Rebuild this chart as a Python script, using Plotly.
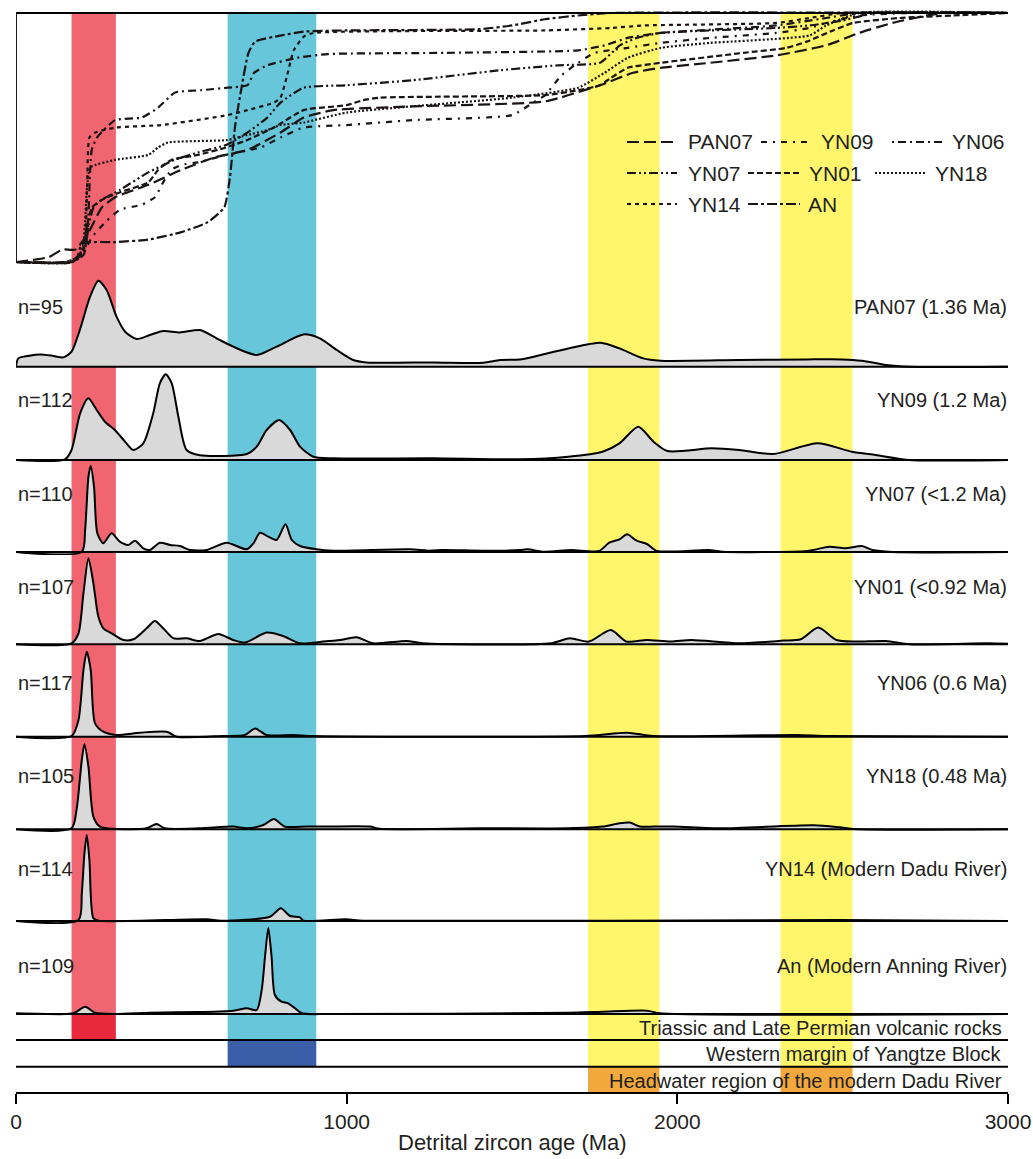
import plotly.graph_objects as go

W, H = 1033, 1159

# ---------------- DATA ----------------
# Cumulative age distributions (top panel): age (Ma) and cumulative fraction
cdf_age_PAN07 = [0,60,100,140,180,220,260,300,400,500,600,700,800,870,960,1200,1600,1766,1866,1950,2100,2300,2450,2550,2650,2800,3000]
cdf_cum_PAN07 = [0,0.01,0.02,0.05,0.05,0.12,0.22,0.26,0.31,0.37,0.42,0.45,0.52,0.58,0.61,0.625,0.645,0.71,0.76,0.78,0.80,0.83,0.87,0.92,0.96,1.0,1.0]
cdf_age_YN09 = [0,170,200,230,270,315,380,420,445,470,500,550,635,740,800,870,1000,1200,1500,1564,1600,1650,1700,1750,1850,1950,2100,2300,2400,2450,2550,2700,3000]
cdf_cum_YN09 = [0,0,0.03,0.10,0.16,0.21,0.23,0.26,0.32,0.37,0.39,0.40,0.43,0.46,0.50,0.54,0.55,0.57,0.59,0.64,0.67,0.75,0.80,0.84,0.86,0.88,0.90,0.92,0.94,0.96,0.99,1.0,1.0]
cdf_age_YN06 = [0,150,200,215,229,245,300,380,430,480,560,640,700,720,760,850,943,1300,1700,1780,1850,1950,2300,2450,2550,3000]
cdf_cum_YN06 = [0,0,0.03,0.10,0.45,0.50,0.57,0.58,0.62,0.68,0.69,0.70,0.71,0.76,0.79,0.82,0.835,0.84,0.85,0.87,0.90,0.92,0.95,0.98,1.0,1.0]
cdf_age_YN07 = [0,170,205,220,235,260,315,400,480,550,635,700,760,800,870,1000,1200,1464,1640,1766,1826,1877,1950,2300,2400,2500,2600,3000]
cdf_cum_YN07 = [0,0,0.03,0.15,0.22,0.25,0.29,0.36,0.41,0.44,0.47,0.52,0.58,0.64,0.70,0.71,0.73,0.77,0.79,0.80,0.87,0.90,0.92,0.94,0.95,0.97,1.0,1.0]
cdf_age_YN01 = [0,170,200,215,230,260,315,400,430,470,550,635,700,780,870,1000,1050,1100,1600,1700,1766,1800,1850,1950,2200,2330,2391,2471,2531,2673,2833,3000]
cdf_cum_YN01 = [0,0,0.04,0.15,0.22,0.25,0.28,0.32,0.37,0.41,0.43,0.46,0.49,0.54,0.61,0.63,0.65,0.66,0.67,0.69,0.71,0.74,0.78,0.80,0.84,0.86,0.885,0.93,0.96,0.98,0.99,1.0]
cdf_age_YN18 = [0,170,200,215,225,300,400,430,460,640,700,760,800,870,1000,1500,1700,1780,1850,1950,2100,2400,2450,2550,3000]
cdf_cum_YN18 = [0,0,0.05,0.30,0.38,0.41,0.43,0.46,0.48,0.49,0.51,0.53,0.55,0.56,0.60,0.66,0.70,0.76,0.82,0.86,0.88,0.91,0.95,1.0,1.0]
cdf_age_YN14 = [0,170,205,215,222,240,300,440,640,700,780,800,820,840,870,900,1600,1800,1900,2300,2400,2500,3000]
cdf_cum_YN14 = [0,0,0.05,0.30,0.50,0.52,0.54,0.55,0.59,0.61,0.64,0.66,0.75,0.85,0.905,0.92,0.93,0.94,0.95,0.96,0.98,1.0,1.0]
cdf_age_AN = [0,150,185,200,300,400,500,580,630,647,662,682,703,723,803,870,1000,1400,1500,1600,1700,1800,3000]
cdf_cum_AN = [0,0,0.02,0.075,0.08,0.09,0.12,0.16,0.22,0.34,0.54,0.70,0.84,0.885,0.91,0.925,0.93,0.935,0.95,0.975,0.99,1.0,1.0]

legend_names = ["PAN07", "YN09", "YN06", "YN07", "YN01", "YN18", "YN14", "AN"]

# Kernel density estimates (relative density, tallest peak = 86 units)
kde_age_PAN07 = [0,7,40,73,110,143,168,193,224,249,274,304,330,365,405,445,496,556,607,657,728,788,869,919,970,1020,1060,1261,1413,1464,1524,1566,1670,1768,1825,1897,1949,2187,2393,2497,2558,2631,2703,3000]
kde_den_PAN07 = [0,8.3,11,12.3,11,9.3,15,36.7,70,86,76.7,50,35,27.7,31.7,35.7,34.3,36.7,28.3,20,11.7,20,32.3,28.3,16.7,6.7,4.3,4.3,4,6.7,7.3,10,18.3,24,18.3,8.3,6,6.7,7.3,7.3,6,1.7,0,0]
kde_age_YN09 = [0,148,168,194,219,244,269,299,330,355,385,415,435,453,471,491,516,556,698,728,758,796,829,859,899,959,1261,1524,1670,1774,1825,1882,1928,1970,2104,2187,2290,2424,2528,2600,2703,3000]
kde_den_YN09 = [0,0.7,10,46.7,61.7,50,38.3,30,18.3,10,16.7,46.7,76.7,85.7,76.7,43.3,10,4.7,6,13.3,30,40,30,13.3,3.3,1.7,1.7,0.7,3.3,8.3,16.7,33.3,18.3,9,11.7,10,6,16.7,8.3,5,0,0]
kde_age_YN07 = [0,199,209,219,226,236,246,264,289,314,340,360,385,405,435,466,496,526,577,637,698,718,738,763,788,815,834,859,909,959,1191,1250,1292,1413,1524,1546,1598,1680,1763,1794,1825,1848,1877,1908,1939,2094,2135,2393,2460,2507,2558,2590,2650,3000]
kde_den_YN07 = [0,0.3,22,75,86,65,18.7,8.7,18.7,10.3,7,11.3,3.7,2,9.3,7,6,2,2,9.3,2.7,8.7,19.3,15.3,12,27.7,12,6,2.7,1.3,2.7,1.3,2,1.3,2,2.7,0.3,2,1,9.3,12.7,17.7,11.3,8,1,2,0.3,1,5.3,3.7,6,2,0,0]
kde_age_YN01 = [0,168,189,204,219,234,249,264,289,325,355,395,420,445,476,516,556,612,657,692,758,808,859,929,980,1030,1080,1181,1230,1618,1675,1732,1799,1846,1908,1980,2042,2187,2321,2373,2426,2481,2538,2631,2703,2941,3000]
kde_den_YN01 = [0,1,11,51,86,61,27.7,16,11,4.3,5,16,23.3,16,6,6,3.3,10.3,4.3,1.7,11.7,8.3,1,2.7,4.3,7,1,3.3,1,1,6,2.7,14.3,2.7,4.3,2.7,4.3,1,3.7,5,16.7,4.3,2.7,3.3,0,1,0.5]
kde_age_YN06 = [0,168,189,204,214,226,239,264,304,375,456,486,627,692,723,758,839,900,1720,1848,1928,2362,2453,3000]
kde_den_YN06 = [0,0.7,16.7,66.7,85,66.7,13.3,5,1.7,4,5,0,0.7,1.7,8.3,1.7,1.7,0.7,0.7,4,0.7,1.7,0.7,0]
kde_age_YN18 = [0,168,183,199,207,219,234,254,395,425,450,556,657,698,748,780,813,879,939,1070,1100,1400,1670,1774,1825,1856,1887,1928,1990,2135,2413,2497,2550,3000]
kde_den_YN18 = [0,1,19.3,69.3,85,62.7,12.7,2.7,1,5.3,1,1,2.7,1,4.3,10.3,2.7,2.7,2.7,2.7,0.5,1,1,2.7,6,6.7,2.7,2.7,2.7,1,4,1.7,0,0]
kde_age_YN14 = [0,189,199,207,214,222,234,250,577,620,768,801,829,859,869,998,1050,2486,3000]
kde_den_YN14 = [0,1,27.7,67.7,86,61,2.7,0.3,1.7,0.3,4.3,12.7,5,3.7,0.3,1.7,0.3,1,0]
kde_age_An = [0,151,178,209,239,300,405,556,657,698,728,743,753,763,773,783,803,823,844,864,950,1670,1774,1908,1949,3000]
kde_den_An = [0.7,0,1.3,7.3,1.3,0,1.3,2,3.3,5.7,4,24,57,86,57,19,12.3,10.7,5.7,0.7,0,1.3,2.3,3.3,0.7,0]

panel_n = ["n=95", "n=112", "n=110", "n=107", "n=117", "n=105", "n=114", "n=109"]
panel_names = ["PAN07 (1.36 Ma)", "YN09 (1.2 Ma)", "YN07 (&lt;1.2 Ma)", "YN01 (&lt;0.92 Ma)",
               "YN06 (0.6 Ma)", "YN18 (0.48 Ma)", "YN14 (Modern Dadu River)", "An (Modern Anning River)"]

# Age bands (Ma)
band_red = [168, 302]
band_blue = [640, 908]
band_yellow = [[1730, 1946], [2312, 2530]]

source_names = ["Triassic and Late Permian volcanic rocks",
                "Western margin of Yangtze Block",
                "Headwater region of the modern Dadu River"]

x_ticks = [0, 1000, 2000, 3000]
x_title = "Detrital zircon age (Ma)"

# ---------------- LAYOUT CONSTANTS (pixels) ----------------
FONT = "Liberation Sans, Arial, sans-serif"
TXT = "#231f20"
XL, XR = 16, 1008
def py(p):
    return 1 - p / H
def px(p):
    return p / W

cdf_top, cdf_bot = 13, 262
bases = [366.7, 460, 552, 644.3, 736.7, 829.3, 921, 1014]
label_y = [306.7, 400, 494, 587, 682.7, 775.7, 869, 966]
row_lines = [1040, 1066.7]
axis_y = 1093

fig = go.Figure()

# CDF traces
cdf_sets = [
    ("PAN07", cdf_age_PAN07, cdf_cum_PAN07, "12px,5px"),
    ("YN09", cdf_age_YN09, cdf_cum_YN09, "6px,6px,2px,6px"),
    ("YN06", cdf_age_YN06, cdf_cum_YN06, "2px,4px,8px,4px"),
    ("YN07", cdf_age_YN07, cdf_cum_YN07, "9px,3px,2px,3px,2px,3px"),
    ("YN01", cdf_age_YN01, cdf_cum_YN01, "6px,3px"),
    ("YN18", cdf_age_YN18, cdf_cum_YN18, "2px,2px"),
    ("YN14", cdf_age_YN14, cdf_cum_YN14, "4px,4px"),
    ("AN", cdf_age_AN, cdf_cum_AN, "10px,3px,3px,3px"),
]
dash_of = {}
for name, a, c, dash in cdf_sets:
    dash_of[name] = dash
    fig.add_trace(go.Scatter(x=a, y=c, mode="lines", xaxis="x", yaxis="y",
                             line=dict(color="#1a1414", width=2.2, dash=dash, shape="spline", smoothing=0.5),
                             showlegend=False, hoverinfo="skip"))

kde_sets = [
    (kde_age_PAN07, kde_den_PAN07), (kde_age_YN09, kde_den_YN09), (kde_age_YN07, kde_den_YN07),
    (kde_age_YN01, kde_den_YN01), (kde_age_YN06, kde_den_YN06), (kde_age_YN18, kde_den_YN18),
    (kde_age_YN14, kde_den_YN14), (kde_age_An, kde_den_An),
]
for i, (a, d) in enumerate(kde_sets):
    ya = "y%d" % (i + 2)
    fig.add_trace(go.Scatter(x=a, y=d, mode="lines", xaxis="x", yaxis=ya, fill="tozeroy",
                             fillcolor="#d9d9d9",
                             line=dict(color="black", width=2, shape="spline", smoothing=0.7),
                             showlegend=False, hoverinfo="skip"))

layout = dict(
    width=W, height=H, margin=dict(l=0, r=0, t=0, b=0, pad=0, autoexpand=False),
    paper_bgcolor="white", plot_bgcolor="rgba(0,0,0,0)",
    showlegend=False,
    font=dict(family=FONT, color=TXT, size=20),
    xaxis=dict(domain=[px(XL), px(XR)], range=[0, 3000], anchor="free", position=py(axis_y),
               automargin=False,
               showline=True, linecolor="black", linewidth=2, ticks="outside", ticklen=10,
               tickwidth=2, tickcolor="black", tickvals=x_ticks, ticktext=[str(t) for t in x_ticks],
               tickfont=dict(size=21, family=FONT, color=TXT), showgrid=False, zeroline=False),
    yaxis=dict(domain=[py(cdf_bot + 3), py(cdf_top - 3)], range=[-3 / 249, 1 + 3 / 249],
               visible=False, anchor="free", position=0, automargin=False),
)
for i, b in enumerate(bases):
    layout["yaxis%d" % (i + 2)] = dict(domain=[py(b + 3), py(b - 89)], range=[-3, 89],
                                        visible=False, anchor="free", position=0, automargin=False)

shapes = []
# colored age bands
y_top = py(cdf_top)
shapes.append(dict(type="rect", xref="x", yref="paper", x0=band_red[0], x1=band_red[1],
                   y0=py(bases[-1]), y1=y_top, fillcolor="#f0656f", line_width=0, layer="below"))
shapes.append(dict(type="rect", xref="x", yref="paper", x0=band_red[0], x1=band_red[1],
                   y0=py(row_lines[0]), y1=py(bases[-1]), fillcolor="#e8283b", line_width=0, layer="below"))
shapes.append(dict(type="rect", xref="x", yref="paper", x0=band_blue[0], x1=band_blue[1],
                   y0=py(row_lines[0]), y1=y_top, fillcolor="#67c6da", line_width=0, layer="below"))
shapes.append(dict(type="rect", xref="x", yref="paper", x0=band_blue[0], x1=band_blue[1],
                   y0=py(row_lines[1]), y1=py(row_lines[0]), fillcolor="#3a5ea8", line_width=0, layer="below"))
for yb in band_yellow:
    shapes.append(dict(type="rect", xref="x", yref="paper", x0=yb[0], x1=yb[1],
                       y0=py(row_lines[1]), y1=y_top, fillcolor="#fff66c", line_width=0, layer="below"))
    shapes.append(dict(type="rect", xref="x", yref="paper", x0=yb[0], x1=yb[1],
                       y0=py(axis_y), y1=py(row_lines[1]), fillcolor="#f2a83c", line_width=0, layer="below"))

# CDF frame: top line and left line
shapes.append(dict(type="line", xref="x", yref="y", x0=0, x1=3000, y0=1, y1=1,
                   line=dict(color="black", width=1.8)))
shapes.append(dict(type="line", xref="x", yref="y", x0=0, x1=0, y0=0, y1=1,
                   line=dict(color="black", width=1.8)))
# panel baselines
for i in range(len(bases)):
    shapes.append(dict(type="line", xref="x", yref="y%d" % (i + 2), x0=0, x1=3000, y0=0, y1=0,
                       line=dict(color="black", width=2), layer="above"))
# source row lines
for r in row_lines:
    shapes.append(dict(type="line", xref="x", yref="paper", x0=0, x1=3000, y0=py(r), y1=py(r),
                       line=dict(color="black", width=2)))

annotations = []
# legend (manual)
legend_pos = [
    ("PAN07", 627, 677, 686, 142), ("YN09", 761, 811, 819, 142), ("YN06", 892, 942, 950, 142),
    ("YN07", 627, 677, 686, 173), ("YN01", 748, 800, 807, 173), ("YN18", 875, 925, 933, 173),
    ("YN14", 627, 677, 686, 204), ("AN", 748, 800, 806, 204),
]
for name, l0, l1, tx, yy in legend_pos:
    shapes.append(dict(type="line", xref="paper", yref="paper", x0=px(l0), x1=px(l1),
                       y0=py(yy), y1=py(yy), line=dict(color="#1a1414", width=2, dash=dash_of[name])))
    annotations.append(dict(text=name, xref="paper", yref="paper", x=px(tx), y=py(yy),
                            xanchor="left", yanchor="middle", showarrow=False,
                            font=dict(size=21, family=FONT, color=TXT)))

for i in range(len(bases)):
    annotations.append(dict(text=panel_n[i], xref="paper", yref="paper", x=px(16), y=py(label_y[i]),
                            xanchor="left", yanchor="middle", showarrow=False,
                            font=dict(size=20, family=FONT, color=TXT)))
    annotations.append(dict(text=panel_names[i], xref="paper", yref="paper", x=px(1009), y=py(label_y[i]),
                            xanchor="right", yanchor="middle", showarrow=False,
                            font=dict(size=20, family=FONT, color=TXT)))

src_y = [1028, 1054, 1081]
for s, yy in zip(source_names, src_y):
    annotations.append(dict(text=s, xref="paper", yref="paper", x=px(1004), y=py(yy),
                            xanchor="right", yanchor="middle", showarrow=False,
                            font=dict(size=20, family=FONT, color=TXT)))

annotations.append(dict(text=x_title, xref="paper", yref="paper", x=px(512), y=py(1142),
                        xanchor="center", yanchor="middle", showarrow=False,
                        font=dict(size=22, family=FONT, color=TXT)))

layout["shapes"] = shapes
layout["annotations"] = annotations
fig.update_layout(**layout)
fig.write_html("out.html", config={"displayModeBar": False, "staticPlot": True},
               post_script="document.body.style.margin='0px';document.body.style.overflow='hidden';")
